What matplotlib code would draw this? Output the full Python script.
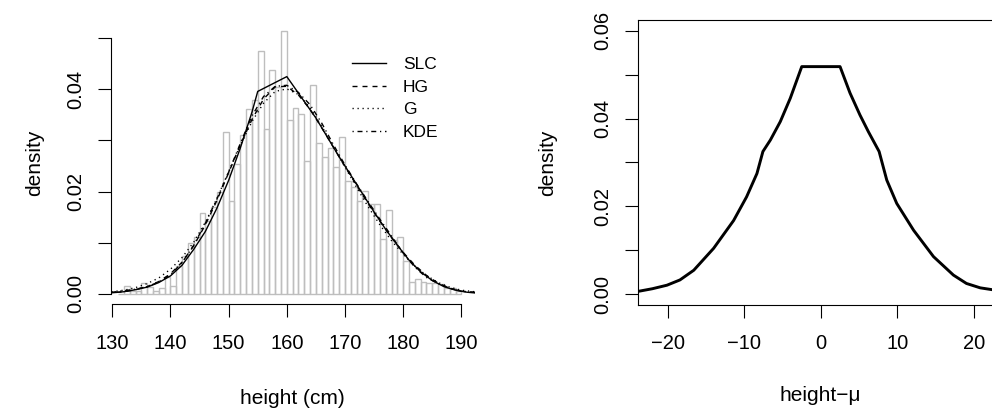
import matplotlib
matplotlib.use("Agg")
import matplotlib.pyplot as plt
import numpy as np

plt.rcParams['font.family'] = ['Liberation Sans', 'DejaVu Sans']

# ---------------- data (left panel) ----------------
bin_left = list(range(131, 190))  # 1-cm bins, 131..189
bin_density = [
    0.0000, 0.0016, 0.0005, 0.0005, 0.0022, 0.0013, 0.0005, 0.0012, 0.0033, 0.0016,
    0.0055, 0.0073, 0.0099, 0.0112, 0.0158, 0.0142, 0.0170, 0.0200, 0.0316, 0.0181,
    0.0254, 0.0310, 0.0362, 0.0380, 0.0476, 0.0323, 0.0437, 0.0405, 0.0515, 0.0340,
    0.0363, 0.0352, 0.0260, 0.0408, 0.0295, 0.0267, 0.0285, 0.0249, 0.0307, 0.0220,
    0.0209, 0.0182, 0.0202, 0.0176, 0.0176, 0.0108, 0.0163, 0.0106, 0.0112, 0.0065,
    0.0023, 0.0029, 0.0023, 0.0022, 0.0022, 0.0020, 0.0011, 0.0011, 0.0006,
]

slc_x = [129, 130, 132, 134, 136, 138, 140, 142, 144, 146, 148, 150, 152, 154, 155,
         160, 165, 167, 169, 171, 173, 175, 177, 179, 181, 183, 185, 187, 189, 191, 193]
slc_y = [0.0001, 0.0002, 0.0004, 0.0008, 0.0013, 0.0022, 0.0035, 0.0056, 0.0087, 0.0122,
         0.0168, 0.0222, 0.0285, 0.0355, 0.0396, 0.0425, 0.0344, 0.0306, 0.0268, 0.0232,
         0.0196, 0.0160, 0.0126, 0.0095, 0.0066, 0.0043, 0.0026, 0.0014, 0.0007, 0.0003,
         0.0001]

grid_x = [129, 130, 132, 134, 136, 138, 140, 142, 144, 146, 148, 150, 152, 154, 156,
          158, 160, 162, 164, 166, 168, 170, 172, 174, 176, 178, 180, 182, 184, 186,
          188, 190, 193]
hg_y = [0.0002, 0.0002, 0.0004, 0.0008, 0.0014, 0.0024, 0.0039, 0.0062, 0.0094, 0.0135,
        0.0183, 0.0237, 0.0291, 0.0341, 0.0381, 0.0405, 0.0406, 0.0389, 0.0361, 0.0325,
        0.0287, 0.0249, 0.0212, 0.0176, 0.0142, 0.0110, 0.0081, 0.0056, 0.0036, 0.0021,
        0.0011, 0.0005, 0.0002]
g_y = [0.0003, 0.0004, 0.0007, 0.0012, 0.0020, 0.0031, 0.0048, 0.0071, 0.0101, 0.0140,
       0.0187, 0.0239, 0.0290, 0.0337, 0.0373, 0.0396, 0.0401, 0.0390, 0.0364, 0.0328,
       0.0288, 0.0248, 0.0208, 0.0170, 0.0135, 0.0104, 0.0077, 0.0054, 0.0036, 0.0022,
       0.0013, 0.0007, 0.0003]
kde_y = [0.0002, 0.0003, 0.0006, 0.0009, 0.0014, 0.0023, 0.0037, 0.0061, 0.0095, 0.0138,
         0.0186, 0.0238, 0.0294, 0.0348, 0.0386, 0.0406, 0.0408, 0.0394, 0.0370, 0.0334,
         0.0292, 0.0252, 0.0215, 0.0180, 0.0146, 0.0113, 0.0080, 0.0052, 0.0032, 0.0020,
         0.0011, 0.0005, 0.0002]

legend_labels = ["SLC", "HG", "G", "KDE"]
left_xticks = [130, 140, 150, 160, 170, 180, 190]
left_yticks = [0.00, 0.01, 0.02, 0.03, 0.04, 0.05]
left_yticklabels = ["0.00", "", "0.02", "", "0.04", ""]

# ---------------- data (right panel) ----------------
err_x = [-25, -23.7, -22, -20.1, -18.4, -16.6, -14.0, -11.4, -9.7, -8.35, -7.57, -6.6,
         -5.3, -4.0, -2.5, 2.5, 3.8, 5.1, 6.2, 7.6, 8.6, 9.9, 12.1, 14.7, 17.3, 19.0,
         20.8, 22.3, 25]
err_y = [0.0005, 0.00075, 0.0013, 0.0021, 0.0033, 0.0055, 0.0105, 0.0168, 0.0222, 0.0275,
         0.0325, 0.0351, 0.0393, 0.0446, 0.0518, 0.0518, 0.0458, 0.0408, 0.0370, 0.0325,
         0.0260, 0.0207, 0.0146, 0.0086, 0.0044, 0.0025, 0.0015, 0.0011, 0.0005]
right_xticks = [-20, -10, 0, 10, 20]
right_yticks = [0.00, 0.01, 0.02, 0.03, 0.04, 0.05, 0.06]
right_yticklabels = ["0.00", "", "0.02", "", "0.04", "", "0.06"]

W, H = 992, 411
fig = plt.figure(figsize=(W / 100, H / 100), dpi=100)


def frac_box(l, t, r, b):
    return [l / W, 1 - b / H, (r - l) / W, (b - t) / H]


TICK_FS = 14.5
LAB_FS = 15
gray = '#BEBEBE'

# ---------------- left panel ----------------
ax1 = fig.add_axes(frac_box(110.7, 20.5, 475.0, 304.3))
ax1.bar(bin_left, bin_density, width=1.0, align='edge', fill=False,
        edgecolor=gray, linewidth=1.0, zorder=1)
ax1.plot(slc_x, slc_y, color='black', lw=1.0, ls='-', label=legend_labels[0], zorder=3)
ax1.plot(grid_x, hg_y, color='black', lw=1.0, dashes=(3.6, 3.6), label=legend_labels[1], zorder=3)
ax1.plot(grid_x, g_y, color='black', lw=1.0, dashes=(0.9, 2.7), label=legend_labels[2], zorder=3)
ax1.plot(grid_x, kde_y, color='black', lw=1.0, dashes=(0.9, 2.7, 3.6, 2.7), label=legend_labels[3], zorder=3)
ax1.set_xlim(129.725, 192.35)
ax1.set_ylim(-0.00206, 0.05348)
for s in ['top', 'right']:
    ax1.spines[s].set_visible(False)
ax1.spines['left'].set_bounds(0.0, 0.05)
ax1.spines['bottom'].set_bounds(130, 190)
for s in ['left', 'bottom']:
    ax1.spines[s].set_linewidth(0.8)
ax1.set_xticks(left_xticks)
ax1.set_xticklabels([str(v) for v in left_xticks])
ax1.set_yticks(left_yticks)
ax1.set_yticklabels(left_yticklabels, rotation=90, va='center')
ax1.tick_params(axis='both', direction='out', length=9.6, width=0.8,
                labelsize=TICK_FS, colors='black')
ax1.tick_params(axis='x', pad=11.5)
ax1.tick_params(axis='y', pad=8.5)
leg = ax1.legend(loc='upper left', bbox_to_anchor=(351.7 / W, 1 - 57 / H),
                 bbox_transform=fig.transFigure, frameon=False, fontsize=12.5,
                 handlelength=2.0, handletextpad=0.95, labelspacing=0.43,
                 borderpad=0, borderaxespad=0)

fig.text(292.5 / W, 1 - 398.3 / H, "height (cm)", ha='center', va='center', fontsize=LAB_FS)
fig.text(35 / W, 1 - 162.5 / H, "density", ha='center', va='center', rotation=90, fontsize=LAB_FS)

# ---------------- right panel ----------------
ax2 = fig.add_axes(frac_box(638.3, 20.0, 1003.5, 305.0))
ax2.plot(err_x, err_y, color='black', lw=2.1, solid_joinstyle='round')
ax2.set_xlim(-23.84, 23.84)
ax2.set_ylim(-0.0024, 0.0624)
for s in ax2.spines.values():
    s.set_linewidth(0.8)
ax2.set_xticks(right_xticks)
ax2.set_xticklabels([str(v).replace('-', '\u2212') for v in right_xticks])
ax2.set_yticks(right_yticks)
ax2.set_yticklabels(right_yticklabels, rotation=90, va='center')
ax2.tick_params(axis='both', direction='out', length=9.6, width=0.8,
                labelsize=TICK_FS, colors='black')
ax2.tick_params(axis='x', pad=11.5)
ax2.tick_params(axis='y', pad=9.0)

fig.text(820 / W, 1 - 395 / H, "height\u2212\u03bc", ha='center', va='center', fontsize=LAB_FS)
fig.text(548 / W, 1 - 162.5 / H, "density", ha='center', va='center', rotation=90, fontsize=LAB_FS)

fig.savefig("out.png", dpi=100)
